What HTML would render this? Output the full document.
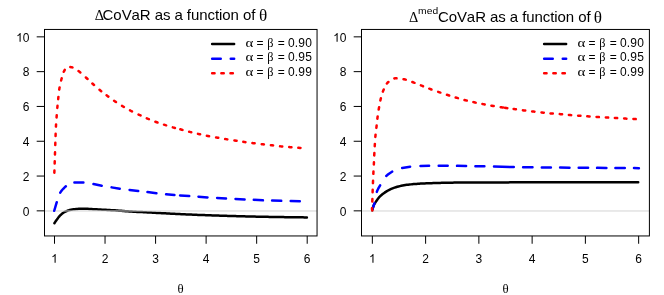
<!DOCTYPE html>
<html><head><meta charset="utf-8"><title>CoVaR</title>
<style>
html,body{margin:0;padding:0;background:#fff;}
body{width:664px;height:295px;overflow:hidden;}
svg{display:block;will-change:transform;}
text{font-family:"Liberation Sans",sans-serif;fill:#000;font-kerning:none;}
.sym{font-family:"Liberation Serif",serif;}
.ax{font-size:12px;}
.ti{font-size:15px;letter-spacing:-0.07px;}
</style></head><body>
<svg width="664" height="295" viewBox="0 0 664 295">
<rect width="664" height="295" fill="#fff"/>

<g fill="none" stroke-width="2.5" stroke-linecap="round" stroke-linejoin="round"><path d="M54.40,223.20 L55.11,222.11 L55.84,221.04 L56.58,219.97 L57.35,218.93 L58.12,217.87 L58.91,216.83 L59.75,215.86 L60.66,214.95 L61.64,214.07 L62.67,213.26 L63.74,212.54 L64.85,211.90 L66.03,211.31 L67.23,210.79 L68.46,210.38 L69.70,210.05 L70.97,209.76 L72.25,209.50 L73.54,209.31 L74.83,209.17 L76.12,209.06 L77.41,208.96 L78.71,208.87 L80.00,208.80 L81.30,208.74 L82.60,208.71 L83.90,208.70 L85.20,208.72 L86.49,208.76 L87.79,208.82 L89.09,208.89 L90.38,208.97 L91.68,209.05 L92.97,209.13 L94.27,209.20 L95.57,209.27 L96.86,209.34 L98.16,209.41 L99.45,209.48 L100.75,209.56 L102.04,209.63 L103.34,209.71 L104.64,209.78 L105.93,209.85 L107.23,209.92 L108.52,209.99 L109.82,210.06 L111.11,210.13 L112.41,210.21 L113.71,210.28 L115.00,210.36 L116.30,210.45 L117.59,210.54 L118.88,210.63 L120.18,210.73 L121.47,210.83 L122.77,210.94 L124.06,211.04 L125.35,211.13 L126.65,211.22 L127.94,211.31 L129.24,211.40 L130.53,211.49 L131.83,211.58 L133.12,211.66 L134.42,211.74 L135.71,211.81 L137.01,211.88 L138.31,211.94 L139.60,212.00 L140.90,212.06 L142.19,212.11 L143.49,212.17 L144.79,212.24 L146.08,212.31 L147.38,212.38 L148.67,212.45 L149.97,212.52 L151.27,212.59 L152.56,212.66 L153.86,212.74 L155.15,212.81 L156.45,212.88 L157.74,212.95 L159.04,213.02 L160.34,213.09 L161.63,213.16 L162.93,213.23 L164.22,213.29 L165.52,213.36 L166.82,213.43 L168.11,213.50 L169.41,213.57 L170.70,213.63 L172.00,213.70 L173.30,213.77 L174.59,213.83 L175.89,213.90 L177.18,213.96 L178.48,214.03 L179.78,214.09 L181.07,214.16 L182.37,214.22 L183.66,214.28 L184.96,214.34 L186.26,214.40 L187.55,214.45 L188.85,214.51 L190.15,214.56 L191.44,214.62 L192.74,214.67 L194.04,214.72 L195.33,214.77 L196.63,214.83 L197.93,214.88 L199.22,214.93 L200.52,214.98 L201.82,215.02 L203.11,215.07 L204.41,215.12 L205.71,215.17 L207.00,215.21 L208.30,215.26 L209.60,215.31 L210.89,215.35 L212.19,215.40 L213.49,215.44 L214.79,215.48 L216.08,215.53 L217.38,215.57 L218.68,215.61 L219.97,215.65 L221.27,215.69 L222.57,215.73 L223.87,215.77 L225.16,215.81 L226.46,215.85 L227.76,215.89 L229.05,215.92 L230.35,215.96 L231.65,216.00 L232.94,216.03 L234.24,216.07 L235.54,216.10 L236.84,216.14 L238.13,216.17 L239.43,216.21 L240.73,216.24 L242.03,216.28 L243.32,216.31 L244.62,216.35 L245.92,216.38 L247.21,216.41 L248.51,216.44 L249.81,216.48 L251.11,216.51 L252.40,216.54 L253.70,216.57 L255.00,216.60 L256.30,216.63 L257.59,216.66 L258.89,216.68 L260.19,216.71 L261.49,216.74 L262.78,216.77 L264.08,216.79 L265.38,216.82 L266.68,216.84 L267.97,216.86 L269.27,216.89 L270.57,216.91 L271.87,216.93 L273.16,216.95 L274.46,216.98 L275.76,217.00 L277.06,217.02 L278.35,217.04 L279.65,217.06 L280.95,217.08 L282.25,217.10 L283.54,217.12 L284.84,217.14 L286.14,217.16 L287.44,217.18 L288.73,217.19 L290.03,217.21 L291.33,217.23 L292.63,217.25 L293.92,217.26 L295.22,217.28 L296.52,217.29 L297.82,217.31 L299.11,217.32 L300.41,217.34 L301.71,217.35 L303.01,217.36 L304.30,217.38 L305.60,217.39 L306.90,217.40" stroke="#000"/></g>
<line x1="44.5" y1="210.97" x2="317.05" y2="210.97" stroke="#d3d3d3" stroke-width="1"/>
<g fill="none" stroke-width="2.5" stroke-linecap="round" stroke-linejoin="round"><path d="M54.23,210.74 L56.77,202.16 M60.24,192.69 L60.77,191.88 L61.34,191.08 L61.94,190.29 L62.58,189.52 L63.25,188.77 L63.95,188.05 L64.66,187.36 L65.38,186.70 L65.85,186.30 M74.40,182.60 L83.40,182.60 M93.48,184.01 L101.72,185.79 M111.58,187.38 L119.72,188.82 M129.59,189.93 L138.21,191.02 M147.49,192.04 L156.41,193.26 M166.10,194.30 L174.40,195.10 M180.10,195.38 L189.20,196.12 M198.50,196.69 L207.50,197.51 M217.10,197.96 L226.00,198.54 M235.50,199.05 L244.60,199.55 M253.80,199.85 L262.90,200.35 M272.10,200.49 L281.20,200.86 M290.70,200.98 L299.80,201.27" stroke="#0000ff"/>
<path d="M54.34,172.73 L54.38,171.99 L54.41,171.25 L54.44,170.51 M54.67,163.51 L54.69,162.77 L54.71,162.03 L54.74,161.29 M54.96,154.41 L54.99,153.67 L55.01,152.93 L55.04,152.19 M55.26,144.94 L55.29,144.20 L55.31,143.46 L55.33,142.73 M55.56,135.96 L55.59,135.23 L55.62,134.49 L55.64,133.75 M55.94,126.62 L55.98,125.88 L56.02,125.15 L56.06,124.41 M56.57,117.42 L56.62,116.68 L56.68,115.94 L56.73,115.21 M57.31,107.97 L57.37,107.24 L57.44,106.50 L57.50,105.77 M58.18,99.16 L58.25,98.42 L58.33,97.69 L58.41,96.95 M59.24,89.62 L59.34,88.89 L59.45,88.16 L59.57,87.43 M61.12,80.46 L61.31,79.75 L61.50,79.04 L61.69,78.32 M63.76,71.80 L64.06,71.16 L64.39,70.54 L64.76,69.86 M70.32,67.11 L71.08,67.17 L71.78,67.25 L72.46,67.40 M78.56,71.11 L79.16,71.56 L79.75,71.98 L80.34,72.42 M85.91,77.47 L86.45,77.97 L87.00,78.47 L87.54,78.97 M92.36,83.54 L92.91,84.04 L93.46,84.53 L94.01,85.02 M99.51,89.76 L100.07,90.23 L100.65,90.70 L101.22,91.16 M106.57,95.31 L107.16,95.75 L107.75,96.19 L108.35,96.63 M114.13,100.81 L114.74,101.23 L115.35,101.64 L115.97,102.04 M122.02,105.82 L122.66,106.20 L123.29,106.57 L123.93,106.95 M130.04,110.40 L130.69,110.74 L131.34,111.08 L132.00,111.41 M138.56,114.52 L139.23,114.83 L139.90,115.14 L140.57,115.45 M146.83,118.33 L147.51,118.63 L148.19,118.91 L148.87,119.20 M155.41,121.74 L156.10,121.99 L156.79,122.24 L157.49,122.49 M164.03,124.66 L164.73,124.88 L165.43,125.11 L166.14,125.33 M172.84,127.40 L173.55,127.60 L174.26,127.80 L174.97,127.99 M180.34,129.33 L181.06,129.51 L181.77,129.70 L182.49,129.89 M189.13,131.72 L189.84,131.91 L190.56,132.09 L191.27,132.27 M197.98,133.85 L198.70,134.01 L199.42,134.17 L200.14,134.33 M206.88,135.78 L207.60,135.92 L208.33,136.06 L209.05,136.20 M216.08,137.41 L216.81,137.53 L217.54,137.66 L218.26,137.79 M225.17,139.01 L225.90,139.13 L226.63,139.25 L227.35,139.37 M234.41,140.43 L235.14,140.54 L235.87,140.66 L236.60,140.77 M243.28,141.84 L244.01,141.94 L244.74,142.05 L245.47,142.15 M252.43,143.07 L253.16,143.16 L253.89,143.25 L254.62,143.34 M261.71,144.18 L262.44,144.26 L263.18,144.34 L263.91,144.42 M270.88,145.17 L271.61,145.26 L272.35,145.34 L273.08,145.43 M280.04,146.29 L280.77,146.37 L281.51,146.44 L282.24,146.51 M289.23,147.11 L289.97,147.17 L290.70,147.23 L291.44,147.29 M298.31,147.81 L299.04,147.87 L299.78,147.93 L300.51,147.99" stroke="#ff0000"/></g>
<g fill="none" stroke-width="2.5" stroke-linecap="round" stroke-linejoin="round"><path d="M372.30,210.60 L372.53,209.19 L372.87,207.83 L373.29,206.50 L373.77,205.23 L374.40,204.00 L375.17,202.82 L375.96,201.65 L376.74,200.49 L377.53,199.33 L378.37,198.21 L379.26,197.16 L380.24,196.17 L381.28,195.23 L382.36,194.33 L383.45,193.48 L384.59,192.66 L385.75,191.89 L386.95,191.16 L388.16,190.48 L389.39,189.83 L390.65,189.21 L391.93,188.65 L393.22,188.14 L394.53,187.67 L395.86,187.23 L397.20,186.82 L398.55,186.45 L399.90,186.13 L401.26,185.84 L402.63,185.56 L404.00,185.31 L405.38,185.07 L406.76,184.86 L408.15,184.68 L409.53,184.52 L410.91,184.37 L412.30,184.24 L413.69,184.11 L415.08,183.99 L416.47,183.89 L417.87,183.79 L419.26,183.70 L420.65,183.62 L422.04,183.54 L423.44,183.48 L424.83,183.41 L426.22,183.35 L427.62,183.29 L429.01,183.24 L430.40,183.19 L431.80,183.14 L433.19,183.09 L434.59,183.05 L435.98,183.01 L437.37,182.97 L438.77,182.93 L440.16,182.89 L441.56,182.85 L442.95,182.81 L444.35,182.78 L445.74,182.75 L447.13,182.72 L448.53,182.69 L449.92,182.67 L451.32,182.65 L452.71,182.64 L454.11,182.62 L455.50,182.61 L456.90,182.59 L458.29,182.58 L459.69,182.57 L461.08,182.56 L462.47,182.55 L463.87,182.54 L465.26,182.53 L466.66,182.52 L468.05,182.51 L469.45,182.50 L470.84,182.50 L472.24,182.49 L473.63,182.48 L475.03,182.48 L476.42,182.47 L477.82,182.47 L479.21,182.46 L480.60,182.46 L482.00,182.45 L483.39,182.45 L484.79,182.44 L486.18,182.44 L487.58,182.43 L488.97,182.43 L490.37,182.43 L491.76,182.42 L493.16,182.42 L494.55,182.41 L495.95,182.41 L497.34,182.41 L498.74,182.40 L500.13,182.40 L501.52,182.40 L502.92,182.39 L504.31,182.39 L505.71,182.38 L507.10,182.38 L508.50,182.38 L509.89,182.37 L511.29,182.37 L512.68,182.37 L514.08,182.36 L515.47,182.36 L516.87,182.35 L518.26,182.35 L519.65,182.35 L521.05,182.34 L522.44,182.34 L523.84,182.34 L525.23,182.33 L526.63,182.33 L528.02,182.33 L529.42,182.32 L530.81,182.32 L532.21,182.32 L533.60,182.32 L535.00,182.31 L536.39,182.31 L537.79,182.31 L539.18,182.31 L540.57,182.31 L541.97,182.30 L543.36,182.30 L544.76,182.30 L546.15,182.30 L547.55,182.30 L548.94,182.30 L550.34,182.30 L551.73,182.30 L553.13,182.30 L554.52,182.30 L555.92,182.30 L557.31,182.30 L558.71,182.30 L560.10,182.30 L561.49,182.30 L562.89,182.30 L564.28,182.30 L565.68,182.30 L567.07,182.30 L568.47,182.30 L569.86,182.30 L571.26,182.30 L572.65,182.30 L574.05,182.30 L575.44,182.30 L576.84,182.30 L578.23,182.30 L579.62,182.30 L581.02,182.30 L582.41,182.30 L583.81,182.30 L585.20,182.30 L586.60,182.30 L587.99,182.30 L589.39,182.30 L590.78,182.30 L592.18,182.30 L593.57,182.30 L594.97,182.30 L596.36,182.30 L597.76,182.30 L599.15,182.30 L600.54,182.30 L601.94,182.30 L603.33,182.30 L604.73,182.30 L606.12,182.30 L607.52,182.30 L608.91,182.30 L610.31,182.30 L611.70,182.30 L613.10,182.30 L614.49,182.30 L615.89,182.30 L617.28,182.30 L618.67,182.30 L620.07,182.30 L621.46,182.30 L622.86,182.30 L624.25,182.30 L625.65,182.30 L627.04,182.30 L628.44,182.30 L629.83,182.30 L631.23,182.30 L632.62,182.30 L634.02,182.30 L635.41,182.30 L636.81,182.30 L638.20,182.30" stroke="#000"/></g>
<line x1="361.5" y1="210.97" x2="649.4" y2="210.97" stroke="#d3d3d3" stroke-width="1"/>
<g fill="none" stroke-width="2.5" stroke-linecap="round" stroke-linejoin="round"><path d="M372.52,208.95 L374.48,203.25 M376.81,191.89 L377.12,191.08 L377.46,190.28 L377.84,189.48 L378.24,188.69 L378.67,187.90 L379.10,187.12 L379.55,186.35 L379.99,185.58 L380.14,185.32 M386.29,175.99 L386.93,175.40 L387.60,174.82 L388.29,174.26 L389.01,173.72 L389.75,173.19 L390.50,172.70 L391.26,172.22 L392.02,171.78 L392.19,171.68 M402.19,167.95 L410.11,166.75 M420.50,165.89 L429.10,165.81 M438.70,165.71 L447.70,165.79 M457.05,165.86 L466.10,165.99 M475.40,166.21 L484.40,166.29 M494.00,166.53 L513.80,167.07 M523.10,167.17 L532.50,167.33 M541.80,167.41 L550.90,167.49 M560.10,167.56 L569.50,167.69 M578.70,167.71 L588.10,167.79 M597.10,167.86 L606.40,167.99 M615.40,168.01 L624.80,168.09 M634.00,168.11 L638.90,168.14" stroke="#0000ff"/>
<path d="M372.30,210.40 L372.05,209.66 L372.00,208.90 L372.01,208.14 M372.30,201.42 L372.33,200.64 L372.36,199.87 L372.39,199.09 M372.61,192.13 L372.64,191.36 L372.66,190.58 L372.69,189.81 M372.95,183.10 L372.98,182.33 L373.01,181.56 L373.05,180.78 M373.34,173.82 L373.38,173.05 L373.42,172.28 L373.45,171.50 M373.84,164.55 L373.88,163.77 L373.92,163.00 L373.95,162.23 M374.24,155.40 L374.28,154.62 L374.32,153.85 L374.36,153.08 M374.73,146.25 L374.78,145.48 L374.82,144.70 L374.87,143.93 M375.35,136.98 L375.42,136.21 L375.49,135.44 L375.56,134.67 M376.36,127.87 L376.45,127.11 L376.54,126.34 L376.62,125.57 M377.36,118.77 L377.45,118.00 L377.55,117.23 L377.65,116.46 M378.70,109.58 L378.83,108.81 L378.96,108.05 L379.09,107.29 M380.35,100.43 L380.51,99.68 L380.69,98.92 L380.87,98.17 M382.87,91.61 L383.14,90.89 L383.43,90.18 L383.72,89.46 M386.89,83.53 L387.35,82.97 L387.83,82.47 L388.36,81.97 M394.33,78.42 L395.06,78.31 L395.79,78.30 L396.53,78.33 M403.51,79.19 L404.28,79.32 L405.03,79.46 L405.77,79.63 M412.35,82.00 L413.07,82.28 L413.80,82.55 L414.52,82.82 M420.86,85.39 L421.58,85.67 L422.30,85.96 L423.02,86.24 M429.27,88.68 L430.00,88.95 L430.72,89.22 L431.45,89.48 M438.16,91.81 L438.89,92.06 L439.62,92.31 L440.35,92.56 M446.95,94.81 L447.69,95.05 L448.42,95.28 L449.16,95.52 M455.71,97.48 L456.45,97.70 L457.20,97.92 L457.94,98.13 M464.52,100.02 L465.26,100.21 L466.01,100.41 L466.76,100.59 M473.42,102.14 L474.18,102.31 L474.94,102.47 L475.69,102.63 M482.40,103.97 L483.16,104.11 L483.92,104.26 L484.68,104.41 M491.40,105.69 L492.16,105.82 L492.92,105.96 L493.69,106.09 M500.69,107.23 L501.46,107.35 L502.22,107.46 L502.99,107.57 M505.03,107.85 L505.80,107.95 L506.57,108.05 L507.34,108.15 M513.61,108.95 L514.37,109.06 L515.14,109.16 L515.91,109.27 M522.93,110.29 L523.70,110.40 L524.46,110.50 L525.23,110.59 M532.15,111.41 L532.92,111.50 L533.69,111.59 L534.46,111.68 M541.51,112.48 L542.28,112.57 L543.05,112.65 L543.82,112.73 M550.50,113.39 L551.27,113.46 L552.04,113.53 L552.81,113.59 M559.76,114.11 L560.53,114.17 L561.30,114.23 L562.07,114.30 M568.88,114.95 L569.65,115.02 L570.42,115.08 L571.19,115.14 M578.14,115.66 L578.91,115.72 L579.69,115.77 L580.46,115.83 M587.28,116.32 L588.05,116.37 L588.82,116.42 L589.60,116.47 M596.55,116.93 L597.32,116.98 L598.09,117.02 L598.87,117.07 M605.82,117.49 L606.59,117.53 L607.37,117.57 L608.14,117.62 M614.84,117.98 L615.61,118.03 L616.38,118.07 L617.16,118.11 M624.11,118.53 L624.88,118.58 L625.66,118.62 L626.43,118.66 M633.39,118.99 L634.16,119.03 L634.94,119.07 L635.71,119.11" stroke="#ff0000"/></g>
<rect x="44.5" y="29.45" width="272.55" height="206.50" fill="none" stroke="#000" stroke-width="1"/>
<path d="M763,0H583V1147Q518,1085 412.5,1023Q307,961 223,930V1104Q374,1175 487,1276Q600,1377 647,1472H763Z" transform="translate(51.16,262.70) scale(0.005859,-0.005859)" fill="#000"/>
<text class="ax" x="105.04" y="262.7" text-anchor="middle">2</text>
<text class="ax" x="155.58" y="262.7" text-anchor="middle">3</text>
<text class="ax" x="206.12" y="262.7" text-anchor="middle">4</text>
<text class="ax" x="256.66" y="262.7" text-anchor="middle">5</text>
<text class="ax" x="307.20" y="262.7" text-anchor="middle">6</text>
<text class="ax" x="29.50" y="215.65" text-anchor="end">0</text>
<text class="ax" x="29.50" y="180.85" text-anchor="end">2</text>
<text class="ax" x="29.50" y="146.05" text-anchor="end">4</text>
<text class="ax" x="29.50" y="111.25" text-anchor="end">6</text>
<text class="ax" x="29.50" y="76.45" text-anchor="end">8</text>
<path d="M763,0H583V1147Q518,1085 412.5,1023Q307,961 223,930V1104Q374,1175 487,1276Q600,1377 647,1472H763Z" transform="translate(16.15,41.65) scale(0.005859,-0.005859)" fill="#000"/>
<text class="ax" x="29.50" y="41.65" text-anchor="end">0</text>
<path d="M54.50,235.95V243.75M105.04,235.95V243.75M155.58,235.95V243.75M206.12,235.95V243.75M256.66,235.95V243.75M307.20,235.95V243.75M44.5,210.85H36.70M44.5,176.05H36.70M44.5,141.25H36.70M44.5,106.45H36.70M44.5,71.65H36.70M44.5,36.85H36.70" stroke="#000" stroke-width="1" fill="none"/>
<text class="sym" font-size="12.8px" x="180.65" y="293.0" text-anchor="middle">θ</text>
<path d="M212.15,44.0H234.15" stroke="#000" stroke-width="2.5" stroke-linecap="round" fill="none"/>
<text class="sym" font-size="12px" transform="translate(245.50,46.70) scale(1.24,1.1)">α</text>
<text class="ax" x="256.55" y="46.70">=</text>
<text class="sym" font-size="12px" transform="translate(267.20,46.70) scale(1.02,1.06)">β</text>
<text class="ax" x="277.65" y="46.70">=</text>
<text class="ax" letter-spacing="0.2px" x="287.95" y="46.70">0.90</text>
<path d="M212.15,58.75h8.6 M230.75,58.75H234.15" stroke="#0000ff" stroke-width="2.5" stroke-linecap="round" fill="none"/>
<text class="sym" font-size="12px" transform="translate(245.50,61.20) scale(1.24,1.1)">α</text>
<text class="ax" x="256.55" y="61.20">=</text>
<text class="sym" font-size="12px" transform="translate(267.20,61.20) scale(1.02,1.06)">β</text>
<text class="ax" x="277.65" y="61.20">=</text>
<text class="ax" letter-spacing="0.2px" x="287.95" y="61.20">0.95</text>
<path d="M212.15,73.3h2.4 M221.35,73.3h2.4 M230.45000000000002,73.3h2.4" stroke="#ff0000" stroke-width="2.5" stroke-linecap="round" fill="none"/>
<text class="sym" font-size="12px" transform="translate(245.50,75.70) scale(1.24,1.1)">α</text>
<text class="ax" x="256.55" y="75.70">=</text>
<text class="sym" font-size="12px" transform="translate(267.20,75.70) scale(1.02,1.06)">β</text>
<text class="ax" x="277.65" y="75.70">=</text>
<text class="ax" letter-spacing="0.2px" x="287.95" y="75.70">0.99</text>
<rect x="361.5" y="29.45" width="287.90" height="206.50" fill="none" stroke="#000" stroke-width="1"/>
<path d="M763,0H583V1147Q518,1085 412.5,1023Q307,961 223,930V1104Q374,1175 487,1276Q600,1377 647,1472H763Z" transform="translate(369.01,262.70) scale(0.005859,-0.005859)" fill="#000"/>
<text class="ax" x="425.61" y="262.7" text-anchor="middle">2</text>
<text class="ax" x="478.87" y="262.7" text-anchor="middle">3</text>
<text class="ax" x="532.13" y="262.7" text-anchor="middle">4</text>
<text class="ax" x="585.39" y="262.7" text-anchor="middle">5</text>
<text class="ax" x="638.65" y="262.7" text-anchor="middle">6</text>
<text class="ax" x="346.50" y="215.65" text-anchor="end">0</text>
<text class="ax" x="346.50" y="180.85" text-anchor="end">2</text>
<text class="ax" x="346.50" y="146.05" text-anchor="end">4</text>
<text class="ax" x="346.50" y="111.25" text-anchor="end">6</text>
<text class="ax" x="346.50" y="76.45" text-anchor="end">8</text>
<path d="M763,0H583V1147Q518,1085 412.5,1023Q307,961 223,930V1104Q374,1175 487,1276Q600,1377 647,1472H763Z" transform="translate(333.15,41.65) scale(0.005859,-0.005859)" fill="#000"/>
<text class="ax" x="346.50" y="41.65" text-anchor="end">0</text>
<path d="M372.35,235.95V243.75M425.61,235.95V243.75M478.87,235.95V243.75M532.13,235.95V243.75M585.39,235.95V243.75M638.65,235.95V243.75M361.5,210.85H353.70M361.5,176.05H353.70M361.5,141.25H353.70M361.5,106.45H353.70M361.5,71.65H353.70M361.5,36.85H353.70" stroke="#000" stroke-width="1" fill="none"/>
<text class="sym" font-size="12.8px" x="505.65" y="293.0" text-anchor="middle">θ</text>
<path d="M544.15,44.0H566.15" stroke="#000" stroke-width="2.5" stroke-linecap="round" fill="none"/>
<text class="sym" font-size="12px" transform="translate(577.50,46.70) scale(1.24,1.1)">α</text>
<text class="ax" x="588.55" y="46.70">=</text>
<text class="sym" font-size="12px" transform="translate(599.20,46.70) scale(1.02,1.06)">β</text>
<text class="ax" x="609.65" y="46.70">=</text>
<text class="ax" letter-spacing="0.2px" x="619.95" y="46.70">0.90</text>
<path d="M544.15,58.75h8.6 M562.75,58.75H566.15" stroke="#0000ff" stroke-width="2.5" stroke-linecap="round" fill="none"/>
<text class="sym" font-size="12px" transform="translate(577.50,61.20) scale(1.24,1.1)">α</text>
<text class="ax" x="588.55" y="61.20">=</text>
<text class="sym" font-size="12px" transform="translate(599.20,61.20) scale(1.02,1.06)">β</text>
<text class="ax" x="609.65" y="61.20">=</text>
<text class="ax" letter-spacing="0.2px" x="619.95" y="61.20">0.95</text>
<path d="M544.15,73.3h2.4 M553.35,73.3h2.4 M562.4499999999999,73.3h2.4" stroke="#ff0000" stroke-width="2.5" stroke-linecap="round" fill="none"/>
<text class="sym" font-size="12px" transform="translate(577.50,75.70) scale(1.24,1.1)">α</text>
<text class="ax" x="588.55" y="75.70">=</text>
<text class="sym" font-size="12px" transform="translate(599.20,75.70) scale(1.02,1.06)">β</text>
<text class="ax" x="609.65" y="75.70">=</text>
<text class="ax" letter-spacing="0.2px" x="619.95" y="75.70">0.99</text>
<text class="sym" font-size="14.4px" transform="translate(94.7,19.7) scale(1.0,0.945)">Δ</text>
<text class="ti" x="102.6" y="19.8">CoVaR as a function of</text>
<text class="sym" font-size="17.2px" x="259.1" y="20.6">θ</text>
<text class="sym" font-size="14.4px" transform="translate(408.9,21.5) scale(1.0,0.945)">Δ</text>
<text font-size="9.6px" letter-spacing="0.1px" transform="translate(418.0,14.42) scale(1.07,1)">med</text>
<text class="ti" x="437.9" y="21.6">CoVaR as a function of</text>
<text class="sym" font-size="17.2px" x="593.7" y="22.5">θ</text>
</svg></body></html>
